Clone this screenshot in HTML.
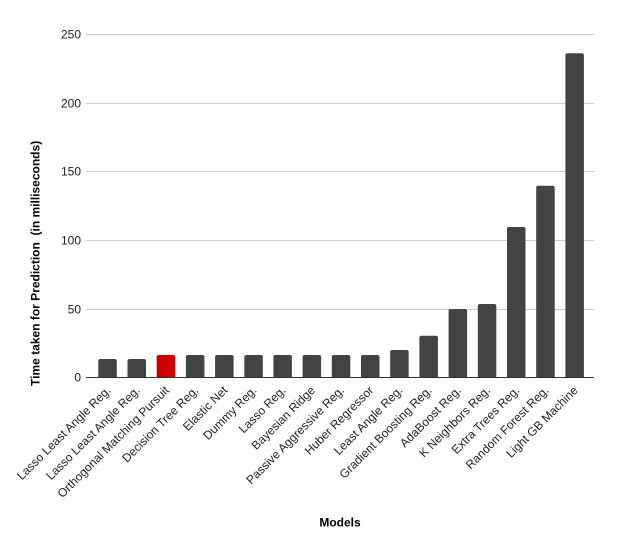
<!DOCTYPE html>
<html><head><meta charset="utf-8"><style>
html,body{margin:0;padding:0;background:#fff;}
svg{display:block;}
text{font-family:"Liberation Sans",Arial,sans-serif;}
</style></head><body>
<svg width="622" height="558" viewBox="0 0 622 558" xmlns="http://www.w3.org/2000/svg">
<rect width="622" height="558" fill="#fff"/>
<g stroke="#cccccc" stroke-width="1" shape-rendering="crispEdges">
<line x1="86" x2="594" y1="34.5" y2="34.5"/>
<line x1="86" x2="594" y1="103.5" y2="103.5"/>
<line x1="86" x2="594" y1="171.5" y2="171.5"/>
<line x1="86" x2="594" y1="240.5" y2="240.5"/>
<line x1="86" x2="594" y1="309.5" y2="309.5"/>
</g>
<g font-size="12" fill="#222" text-anchor="end">
<text x="81" y="38.5">250</text>
<text x="81" y="107.5">200</text>
<text x="81" y="175.5">150</text>
<text x="81" y="244.5">100</text>
<text x="81" y="313.5">50</text>
<text x="81" y="381.5">0</text>
</g>
<g fill="#434343">
<path d="M98.3 377V361a2 2 0 0 1 2-2h14.5a2 2 0 0 1 2 2V377Z"/>
<path d="M127.5 377V361a2 2 0 0 1 2-2h14.5a2 2 0 0 1 2 2V377Z"/>
<path fill="#cc0000" d="M156.7 377V357a2 2 0 0 1 2-2h14.5a2 2 0 0 1 2 2V377Z"/>
<path d="M185.9 377V357a2 2 0 0 1 2-2h14.5a2 2 0 0 1 2 2V377Z"/>
<path d="M215.1 377V357a2 2 0 0 1 2-2h14.5a2 2 0 0 1 2 2V377Z"/>
<path d="M244.3 377V357a2 2 0 0 1 2-2h14.5a2 2 0 0 1 2 2V377Z"/>
<path d="M273.4 377V357a2 2 0 0 1 2-2h14.5a2 2 0 0 1 2 2V377Z"/>
<path d="M302.6 377V357a2 2 0 0 1 2-2h14.5a2 2 0 0 1 2 2V377Z"/>
<path d="M331.8 377V357a2 2 0 0 1 2-2h14.5a2 2 0 0 1 2 2V377Z"/>
<path d="M361.0 377V357a2 2 0 0 1 2-2h14.5a2 2 0 0 1 2 2V377Z"/>
<path d="M390.2 377V352a2 2 0 0 1 2-2h14.5a2 2 0 0 1 2 2V377Z"/>
<path d="M419.4 377V337.7a2 2 0 0 1 2-2h14.5a2 2 0 0 1 2 2V377Z"/>
<path d="M448.6 377V311a2 2 0 0 1 2-2h14.5a2 2 0 0 1 2 2V377Z"/>
<path d="M477.8 377V306a2 2 0 0 1 2-2h14.5a2 2 0 0 1 2 2V377Z"/>
<path d="M507.0 377V229a2 2 0 0 1 2-2h14.5a2 2 0 0 1 2 2V377Z"/>
<path d="M536.2 377V187.7a2 2 0 0 1 2-2h14.5a2 2 0 0 1 2 2V377Z"/>
<path d="M565.4 377V55.3a2 2 0 0 1 2-2h14.5a2 2 0 0 1 2 2V377Z"/>
</g>
<line x1="86" x2="594" y1="377.5" y2="377.5" stroke="#333" stroke-width="1" shape-rendering="crispEdges"/>
<g font-size="12" fill="#222" text-anchor="end">
<text transform="translate(111.5 391) rotate(-45)">Lasso Least Angle Reg.</text>
<text transform="translate(140.7 391) rotate(-45)">Lasso Least Angle Reg.</text>
<text transform="translate(169.9 391) rotate(-45)">Orthogonal Matching Pursuit</text>
<text transform="translate(199.1 391) rotate(-45)">Decision Tree Reg.</text>
<text transform="translate(228.3 391) rotate(-45)">Elastic Net</text>
<text transform="translate(257.5 391) rotate(-45)">Dummy Reg.</text>
<text transform="translate(286.6 391) rotate(-45)">Lasso Reg.</text>
<text transform="translate(315.8 391) rotate(-45)">Bayesian Ridge</text>
<text transform="translate(345.0 391) rotate(-45)">Passive Aggressive Reg.</text>
<text transform="translate(374.2 391) rotate(-45)">Huber Regressor</text>
<text transform="translate(403.4 391) rotate(-45)">Least Angle Reg.</text>
<text transform="translate(432.6 391) rotate(-45)">Gradient Boosting Reg.</text>
<text transform="translate(461.8 391) rotate(-45)">AdaBoost Reg.</text>
<text transform="translate(491.0 391) rotate(-45)">K Neighbors Reg.</text>
<text transform="translate(520.2 391) rotate(-45)">Extra Trees Reg.</text>
<text transform="translate(549.4 391) rotate(-45)">Random Forest Reg.</text>
<text transform="translate(578.6 391) rotate(-45)">Light GB Machine</text>
</g>
<text x="340" y="526.5" font-size="12" font-weight="bold" fill="#000" text-anchor="middle">Models</text>
<text transform="translate(39.5 263.4) rotate(-90)" font-size="12" font-weight="bold" fill="#000" text-anchor="middle" style="white-space:pre" xml:space="preserve">Time taken for Prediction  (in milliseconds)</text>
</svg>
</body></html>
